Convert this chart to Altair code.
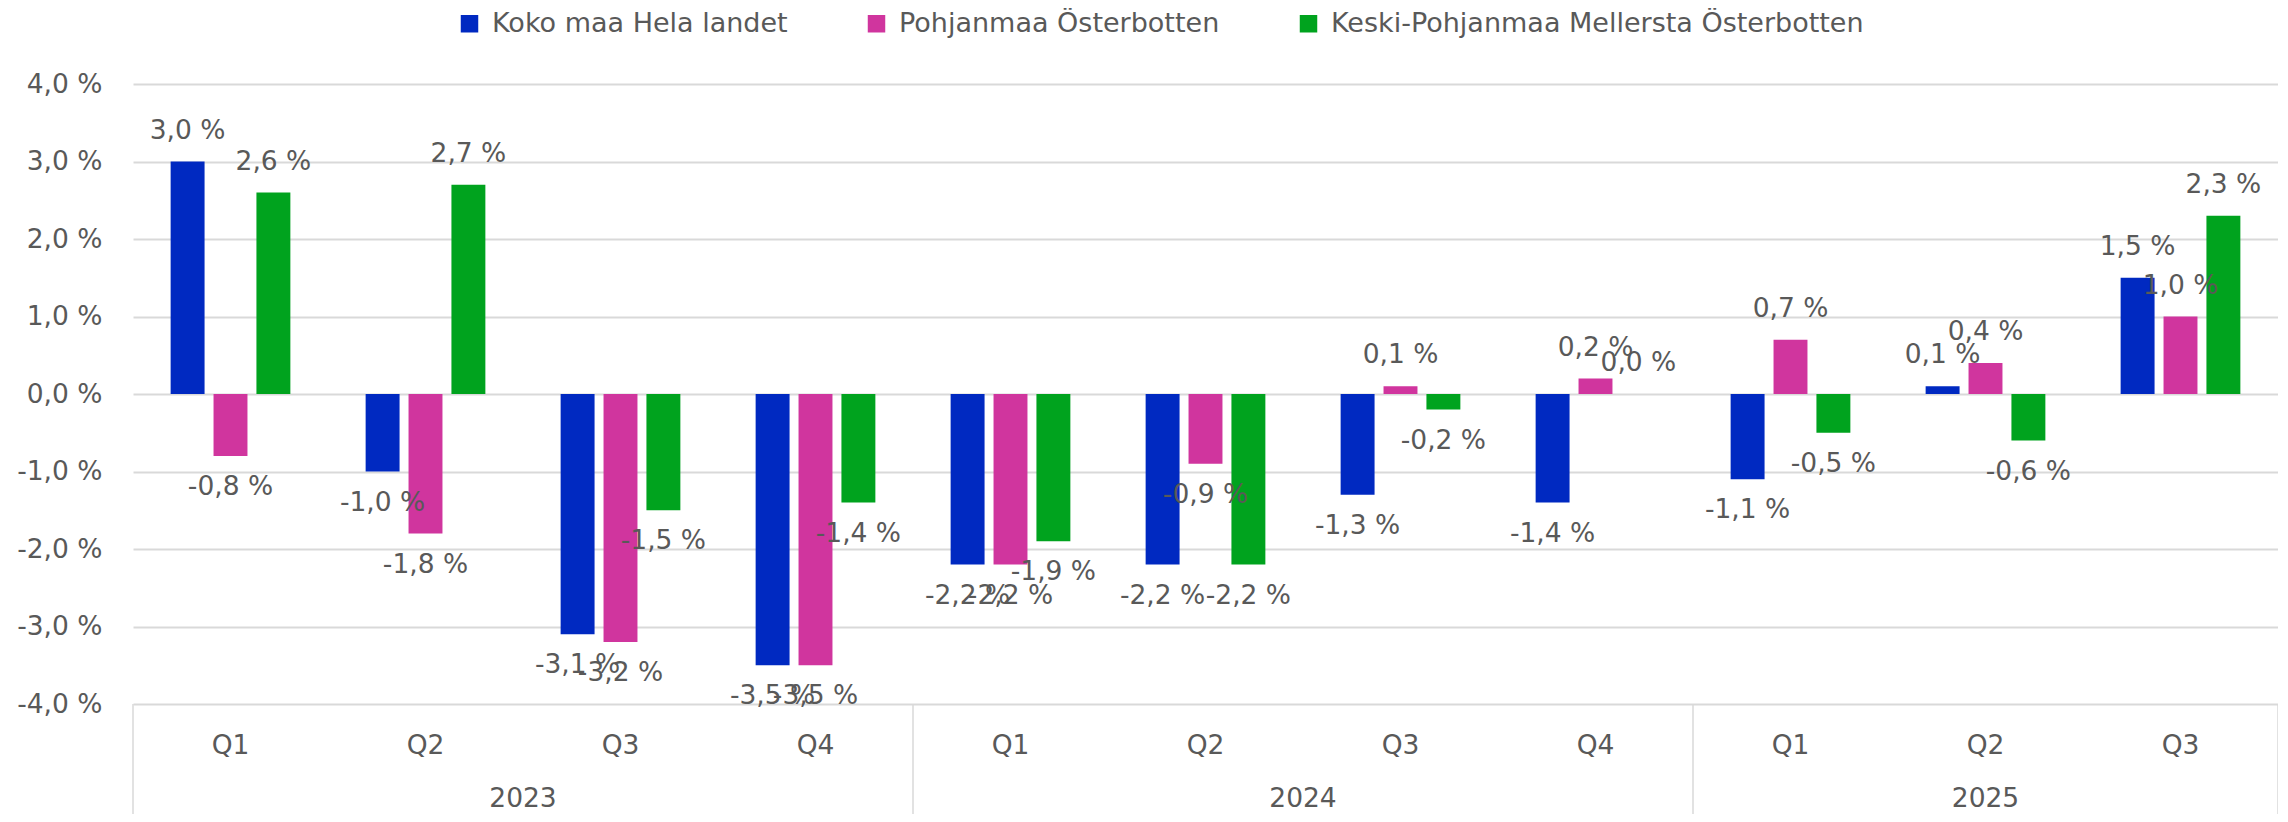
import altair as alt
import pandas as pd

years = ["2023", "2023", "2023", "2023", "2024", "2024", "2024", "2024", "2025", "2025", "2025"]
quarters = ["Q1", "Q2", "Q3", "Q4", "Q1", "Q2", "Q3", "Q4", "Q1", "Q2", "Q3"]
series = ["Koko maa Hela landet", "Pohjanmaa Österbotten", "Keski-Pohjanmaa Mellersta Österbotten"]
koko = [3.0, -1.0, -3.1, -3.5, -2.2, -2.2, -1.3, -1.4, -1.1, 0.1, 1.5]
pohj = [-0.8, -1.8, -3.2, -3.5, -2.2, -0.9, 0.1, 0.2, 0.7, 0.4, 1.0]
keski = [2.6, 2.7, -1.5, -1.4, -1.9, -2.2, -0.2, 0.0, -0.5, -0.6, 2.3]
colors = ["#0029C1", "#D0359E", "#00A31E"]
year_names = ["2023", "2024", "2025"]
year_bounds = [0, 4, 8, 11]
y_ticks = [-4, -3, -2, -1, 0, 1, 2, 3, 4]


def fmt(v):
    s = f"{abs(v):.1f}".replace(".", ",")
    return ("-" if v < 0 else "") + s + " %"


keys = [f"{y} {q}" for y, q in zip(years, quarters)]
rows = []
for s, vals in zip(series, [koko, pohj, keski]):
    for k, v in zip(keys, vals):
        rows.append({"key": k, "series": s, "value": v, "label": fmt(v)})
df = pd.DataFrame(rows)

sep_df = pd.DataFrame({"b": year_bounds})
yr_df = pd.DataFrame({
    "year": year_names,
    "mid": [(a + b) / 2 for a, b in zip(year_bounds[:-1], year_bounds[1:])],
})

W, H = 2145, 620
FONT = "DejaVu Sans"
FS = 26.5
TC = "#595959"
GRID = "#d9d9d9"

x_enc = alt.X(
    "key:N",
    sort=keys,
    scale=alt.Scale(domain=keys, paddingInner=0.386, paddingOuter=0.193),
    axis=alt.Axis(
        title=None, labelExpr="split(datum.label, ' ')[1]", ticks=False, tickSize=0,
        domain=False, grid=False, labelPadding=41, labelBaseline="middle", labelAngle=0,
        labelFont=FONT, labelFontSize=FS, labelColor=TC,
    ),
)
xoff = alt.XOffset("series:N", sort=series,
                   scale=alt.Scale(domain=series, paddingInner=0.209, paddingOuter=0))
y_enc = alt.Y(
    "value:Q",
    scale=alt.Scale(domain=[-4, 4], nice=False, zero=False),
    axis=alt.Axis(
        title=None, values=y_ticks,
        labelExpr="(datum.value < 0 ? '-' : '') + replace(format(abs(datum.value), '.1f'), '.', ',') + ' %'",
        gridColor=GRID, gridWidth=2, domain=False, ticks=False, tickSize=0,
        labelPadding=31, minExtent=120, maxExtent=120,
        labelFont=FONT, labelFontSize=FS, labelColor=TC,
    ),
)
color = alt.Color(
    "series:N", sort=series,
    scale=alt.Scale(domain=series, range=colors),
    legend=alt.Legend(
        title=None, orient="none", legendX=323, legendY=-74, direction="horizontal",
        symbolType="square", symbolSize=306, symbolStrokeWidth=0, labelFont=FONT,
        labelFontSize=27, labelColor=TC, columnPadding=75, labelOffset=9, padding=0,
        labelLimit=1000,
    ),
)

base = alt.Chart(df)
bars = base.mark_bar().encode(x=x_enc, xOffset=xoff, y=y_enc, color=color)
tpos = base.transform_filter("datum.value >= 0").mark_text(
    dy=-31, baseline="middle", align="center", font=FONT, fontSize=FS, color=TC
).encode(x=x_enc, xOffset=xoff, y=y_enc, text="label:N")
tneg = base.transform_filter("datum.value < 0").mark_text(
    dy=31, baseline="middle", align="center", font=FONT, fontSize=FS, color=TC
).encode(x=x_enc, xOffset=xoff, y=y_enc, text="label:N")

xq_scale = alt.Scale(domain=[0, 11], nice=False, zero=False)
seps = alt.Chart(sep_df).mark_rule(color=GRID, strokeWidth=1.5).encode(
    x=alt.X("b:Q", scale=xq_scale, axis=None),
    y=alt.value(H), y2=alt.value(H + 110),
)
yrs = alt.Chart(yr_df).mark_text(
    baseline="middle", align="center", font=FONT, fontSize=FS, color=TC
).encode(
    x=alt.X("mid:Q", scale=xq_scale, axis=None),
    y=alt.value(H + 95), text="year:N",
)

chart = alt.layer(
    alt.layer(bars, tpos, tneg),
    alt.layer(seps, yrs),
).resolve_scale(x="independent").properties(
    width=W, height=H,
    autosize=alt.AutoSizeParams(type="none"),
    padding={"left": 125, "top": 76, "right": 0, "bottom": 110},
).configure_view(stroke=None)

chart.save("out.html", embed_options={"renderer": "svg", "actions": False})
